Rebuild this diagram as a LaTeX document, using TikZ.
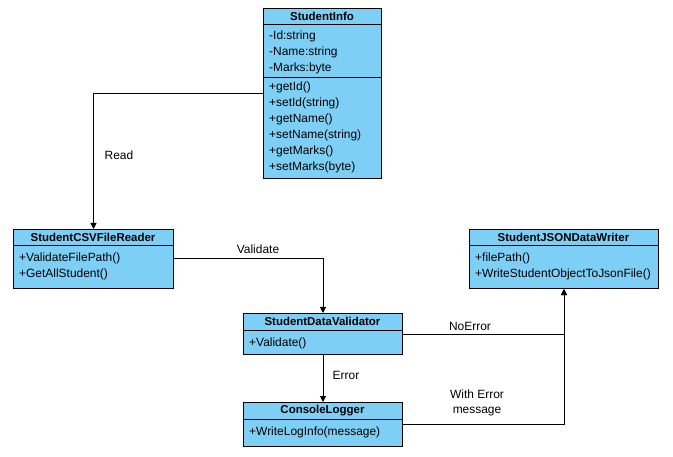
\documentclass[tikz,border=0pt]{standalone}
\usepackage{fontspec}
\setmainfont{Liberation Sans}
\usetikzlibrary{arrows.meta}
\definecolor{classfill}{RGB}{126,207,245}
\tikzset{
  classbox/.style={draw=black, fill=classfill, line width=1bp, rectangle, inner sep=0pt, anchor=north west},
  title/.style={font=\fontsize{11.5}{13}\selectfont\bfseries, anchor=center, inner sep=0pt},
  row/.style={font=\fontsize{12}{14}\selectfont, anchor=west, inner sep=0pt},
  lbl/.style={font=\fontsize{12}{14}\selectfont, anchor=center, inner sep=0pt, align=center},
  conn/.style={draw=black, line width=1bp, -{Triangle[width=6bp,length=6bp]}},
}
\begin{document}
\begin{tikzpicture}[x=1bp,y=-1bp]
\useasboundingbox[fill=white] (0,0) rectangle (673,457);

% StudentInfo
\node[classbox, minimum width=118bp, minimum height=170bp] (info) at (263,8) {};
\draw[line width=1bp] (263,25) -- (381,25);
\draw[line width=1bp] (263,78) -- (381,78);
\node[title] (infoT) at (322,16.5) {StudentInfo};
\node[row] (i1) at (269,36) {-Id:string};
\node[row] (i2) at (269,52) {-Name:string};
\node[row] (i3) at (269,68) {-Marks:byte};
\node[row] (i4) at (269,87) {+getId()};
\node[row] (i5) at (269,103) {+setId(string)};
\node[row] (i6) at (269,119) {+getName()};
\node[row] (i7) at (269,135) {+setName(string)};
\node[row] (i8) at (269,151) {+getMarks()};
\node[row] (i9) at (269,167) {+setMarks(byte)};

% StudentCSVFileReader
\node[classbox, minimum width=160bp, minimum height=59bp] (reader) at (13,229) {};
\draw[line width=1bp] (13,246) -- (173,246);
\node[title] (readerT) at (93,237.5) {StudentCSVFileReader};
\node[row] (r1) at (19,258) {+ValidateFilePath()};
\node[row] (r2) at (19,274) {+GetAllStudent()};

% StudentJSONDataWriter
\node[classbox, minimum width=189bp, minimum height=59bp] (writer) at (469,229) {};
\draw[line width=1bp] (469,246) -- (658,246);
\node[title] (writerT) at (563.5,237.5) {StudentJSONDataWriter};
\node[row] (w1) at (475,258) {+filePath()};
\node[row] (w2) at (475,274) {+WriteStudentObjectToJsonFile()};

% StudentDataValidator
\node[classbox, minimum width=159bp, minimum height=41bp] (valid) at (243,313) {};
\draw[line width=1bp] (243,330) -- (402,330);
\node[title] (validT) at (322.5,321.5) {StudentDataValidator};
\node[row] (v1) at (249,343) {+Validate()};

% ConsoleLogger
\node[classbox, minimum width=159bp, minimum height=44bp] (logger) at (243,402) {};
\draw[line width=1bp] (243,419) -- (402,419);
\node[title] (loggerT) at (322.5,410.5) {ConsoleLogger};
\node[row] (l1) at (249,432) {+WriteLogInfo(message)};

% connectors
\draw[conn] (info.west) -| (reader.north);
\draw[conn] (reader.east) -| (valid.north);
\draw[conn] (valid.south) -- (logger.north);
\draw[conn] (valid.east) -| (writer.south);
\draw[conn] (logger.east) -| (writer.south);

% connector labels
\node[lbl] (readL) at (119,155) {Read};
\node[lbl] (validL) at (258,249) {Validate};
\node[lbl] (errL) at (346,375) {Error};
\node[lbl] (noerrL) at (470,326) {NoError};
\node[lbl, font=\fontsize{12}{15}\selectfont] (msgL) at (477,403) {With Error\\message};
\end{tikzpicture}
\end{document}
